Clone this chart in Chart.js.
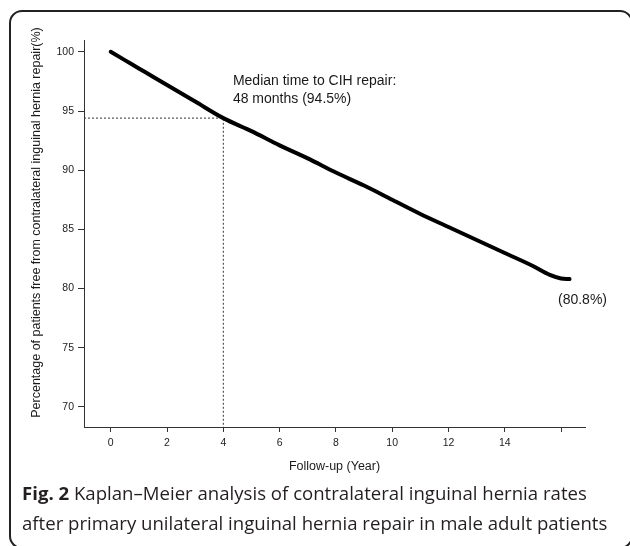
<!DOCTYPE html>
<html>
<head>
<meta charset="utf-8">
<script src="https://cdn.jsdelivr.net/npm/chart.js@4.4.1/dist/chart.umd.min.js"></script>
<style>
  html, body { margin: 0; padding: 0; background: #fff; overflow: hidden; }
  #page { position: relative; width: 630px; height: 546px; overflow: hidden; }
  #frame { position: absolute; left: 9px; top: 10px; width: 620px; height: 535px;
           border: 2px solid #222; border-radius: 13px; }
  #chartBox { position: absolute; left: 0; top: 0; width: 630px; height: 546px; }
  #caption { position: absolute; left: 22px; top: 478px; width: 600px;
             font-family: "Open Sans", "Noto Sans", sans-serif; font-size: 18.6px;
             line-height: 30px; color: #231f20; white-space: nowrap; }
  #caption b { font-weight: 700; }
</style>
</head>
<body>
<div id="page">
  <div id="frame"></div>
  <div id="chartBox"><canvas id="c" width="630" height="546"></canvas></div>
  <div id="caption"><b>Fig. 2</b> Kaplan–Meier analysis of contralateral inguinal hernia rates<br>after primary unilateral inguinal hernia repair in male adult patients</div>
</div>
<script>
// ---- data ----
const years    = [0, 0.5, 1, 1.5, 2, 3, 4, 5, 6, 7, 8, 9, 10, 11, 12, 13, 14, 15, 15.6, 16.0, 16.3];
const survival = [100, 99.3, 98.6, 97.9, 97.2, 95.8, 94.4, 93.3, 92.1, 91.0, 89.8, 88.7, 87.5, 86.3, 85.2, 84.1, 83.0, 81.9, 81.15, 80.85, 80.8];
const medianYear = 4;
const medianPct = 94.4;
const xTickValues = [0, 2, 4, 6, 8, 10, 12, 14, 16];
const xTickLabels = ['0', '2', '4', '6', '8', '10', '12', '14', ''];
const yTickValues = [70, 75, 80, 85, 90, 95, 100];
const xRange = [-0.95, 16.85];
const yRange = [68.3, 101];
const xTitle = 'Follow-up (Year)';
const yTitle = 'Percentage of patients free from contralateral inguinal hernia repair(%)';
const annotations = [
  { text: 'Median time to CIH repair:', x: 4.34, y: 97.53 },
  { text: '48 months (94.5%)', x: 4.34, y: 96.0 },
  { text: '(80.8%)', x: 15.89, y: 79.02 }
];

// ---- build ----
const curve = years.map((t, i) => ({ x: t, y: survival[i] }));
const medianGuide = [
  { x: xRange[0], y: medianPct },
  { x: medianYear, y: medianPct },
  { x: medianYear, y: yRange[0] }
];
const FONT = '"Liberation Sans", Arial, sans-serif';

const textPlugin = {
  id: 'texts',
  afterDraw(chart) {
    const { ctx, scales: { x, y }, chartArea } = chart;
    ctx.save();
    ctx.fillStyle = '#1a1a1a';
    ctx.font = '14px ' + FONT;
    ctx.textBaseline = 'middle';
    ctx.textAlign = 'left';
    annotations.forEach(a => ctx.fillText(a.text, x.getPixelForValue(a.x), y.getPixelForValue(a.y)));
    ctx.font = '12.5px ' + FONT;
    ctx.translate(37, (chartArea.top + chartArea.bottom) / 2 - 11);
    ctx.rotate(-Math.PI / 2);
    ctx.textAlign = 'center';
    ctx.fillText(yTitle, 0, 0);
    ctx.restore();
  }
};

new Chart(document.getElementById('c'), {
  type: 'line',
  data: {
    datasets: [
      { data: curve, borderColor: '#000', borderWidth: 4, pointRadius: 0,
        cubicInterpolationMode: 'monotone', borderCapStyle: 'round', borderJoinStyle: 'round' },
      { data: medianGuide, borderColor: '#333', borderWidth: 1, borderDash: [2, 2],
        pointRadius: 0, tension: 0 }
    ]
  },
  options: {
    responsive: false,
    devicePixelRatio: 1,
    animation: false,
    events: [],
    layout: { padding: { top: 40, right: 45, left: 0, bottom: 66 } },
    plugins: { legend: { display: false }, tooltip: { enabled: false } },
    scales: {
      x: {
        type: 'linear', min: xRange[0], max: xRange[1],
        afterBuildTicks: s => { s.ticks = xTickValues.map(v => ({ value: v })); },
        afterFit: s => { s.height = 53; },
        ticks: { callback: (v) => xTickLabels[xTickValues.indexOf(v)] ?? '',
                 font: { family: FONT, size: 10.5 }, color: '#222', padding: 5, maxRotation: 0, autoSkip: false },
        grid: { display: true, drawOnChartArea: false, drawTicks: true, tickLength: 5, tickColor: '#333', tickWidth: 1 },
        border: { display: true, color: '#333', width: 1 },
        title: { display: true, text: xTitle, font: { family: FONT, size: 12.5 }, color: '#1a1a1a', padding: { top: 0, bottom: 6 } }
      },
      y: {
        type: 'linear', min: yRange[0], max: yRange[1],
        afterBuildTicks: s => { s.ticks = yTickValues.map(v => ({ value: v })); },
        afterFit: s => { s.width = 84; },
        ticks: { font: { family: FONT, size: 10.5 }, color: '#222', padding: 4, autoSkip: false },
        grid: { display: true, drawOnChartArea: false, drawTicks: true, tickLength: 6, tickColor: '#333', tickWidth: 1 },
        border: { display: true, color: '#333', width: 1 },
        title: { display: false }
      }
    }
  },
  plugins: [textPlugin]
});
</script>
</body>
</html>
